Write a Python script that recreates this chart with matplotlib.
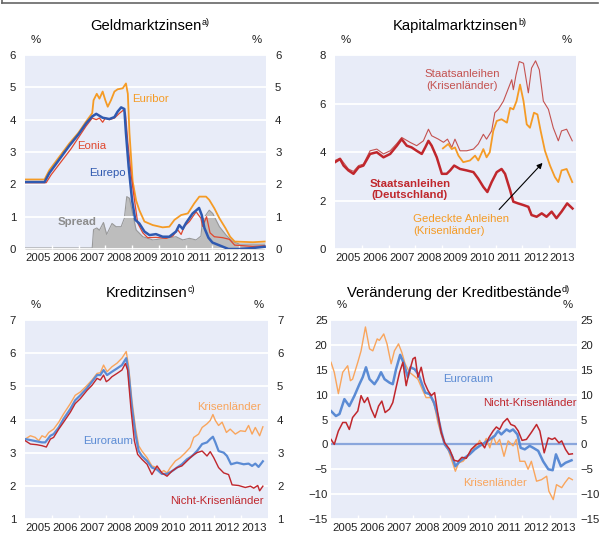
import matplotlib
matplotlib.use("Agg")
import matplotlib.pyplot as plt
from matplotlib.lines import Line2D

plt.rcParams['font.family'] = ['Liberation Sans', 'DejaVu Sans']

# ---------------------------------------------------------------- data
YEARS = ["2005", "2006", "2007", "2008", "2009", "2010", "2011", "2012", "2013"]

# Geldmarktzinsen
euribor_x = [2005.0, 2005.73, 2005.91, 2006.29, 2006.66, 2007.0, 2007.28, 2007.51, 2007.56, 2007.68,
             2007.78, 2007.9, 2008.0, 2008.09, 2008.21, 2008.34, 2008.46, 2008.65, 2008.77, 2008.84,
             2008.9, 2009.02, 2009.15, 2009.27, 2009.46, 2009.77, 2010.14, 2010.39, 2010.58, 2010.83,
             2011.08, 2011.32, 2011.51, 2011.76, 2011.88, 2012.07, 2012.26, 2012.49, 2012.66, 2012.83,
             2013.51, 2013.95]
euribor_y = [2.15, 2.15, 2.44, 2.86, 3.27, 3.6, 3.94, 4.2, 4.6, 4.8,
             4.65, 4.87, 4.6, 4.4, 4.6, 4.87, 4.94, 4.97, 5.12, 4.8,
             3.6, 2.1, 1.5, 1.2, 0.85, 0.74, 0.67, 0.69, 0.9, 1.05,
             1.1, 1.41, 1.62, 1.62, 1.52, 1.26, 0.95, 0.64, 0.38, 0.23,
             0.21, 0.23]
eurepo_x = [2005.0, 2005.73, 2005.91, 2006.29, 2006.66, 2007.0, 2007.28, 2007.51, 2007.66, 2007.9,
            2008.15, 2008.34, 2008.46, 2008.59, 2008.71, 2008.77, 2008.87, 2009.0, 2009.12, 2009.27,
            2009.46, 2009.65, 2009.89, 2010.14, 2010.39, 2010.64, 2010.76, 2010.89, 2011.01, 2011.26,
            2011.5, 2011.6, 2011.7, 2011.85, 2012.0, 2012.3, 2012.6, 2013.0, 2013.5, 2013.95]
eurepo_y = [2.07, 2.07, 2.35, 2.78, 3.2, 3.55, 3.88, 4.1, 4.18, 4.06,
            4.02, 4.08, 4.25, 4.38, 4.33, 3.58, 2.55, 1.5, 0.9, 0.79,
            0.54, 0.43, 0.46, 0.38, 0.38, 0.54, 0.74, 0.62, 0.8, 1.1,
            1.27, 1.05, 0.65, 0.35, 0.2, 0.1, 0.0, 0.0, 0.03, 0.07]
eonia_x = [2005.0, 2005.79, 2005.98, 2006.35, 2006.72, 2007.0, 2007.28, 2007.51, 2007.66, 2007.78,
           2007.9, 2008.0, 2008.15, 2008.34, 2008.53, 2008.68, 2008.75, 2008.84, 2008.96, 2009.09,
           2009.21, 2009.4, 2009.58, 2009.89, 2010.27, 2010.52, 2010.7, 2010.83, 2010.95, 2011.14,
           2011.39, 2011.57, 2011.63, 2011.78, 2011.91, 2012.07, 2012.38, 2012.63, 2012.83, 2013.51,
           2013.95]
eonia_y = [2.05, 2.05, 2.3, 2.7, 3.1, 3.45, 3.8, 4.05, 4.0, 4.05,
           3.92, 4.05, 4.0, 4.05, 4.2, 4.3, 4.2, 3.3, 2.3, 1.5,
           0.8, 0.5, 0.35, 0.36, 0.33, 0.4, 0.6, 0.45, 0.7, 0.85,
           1.15, 0.95, 0.7, 1.0, 0.5, 0.38, 0.35, 0.3, 0.12, 0.08,
           0.1]
spread_x = [2005.0, 2007.51, 2007.56, 2007.68, 2007.78, 2007.93, 2008.05, 2008.25, 2008.4, 2008.59,
            2008.71, 2008.8, 2008.9, 2009.02, 2009.15, 2009.4, 2009.77, 2010.27, 2010.64, 2010.89,
            2011.14, 2011.39, 2011.57, 2011.63, 2011.88, 2012.01, 2012.26, 2012.51, 2012.76, 2013.01,
            2013.95]
spread_y = [0.03, 0.03, 0.6, 0.65, 0.58, 0.82, 0.45, 0.79, 0.69, 0.69,
            0.95, 1.62, 1.57, 1.1, 0.59, 0.38, 0.28, 0.33, 0.38, 0.28,
            0.33, 0.28, 0.4, 0.9, 1.2, 1.1, 0.69, 0.43, 0.23, 0.15,
            0.15]

# Kapitalmarktzinsen
de_x = [2005.0, 2005.19, 2005.32, 2005.5, 2005.69, 2005.88, 2006.06, 2006.31, 2006.56, 2006.81,
        2007.06, 2007.31, 2007.49, 2007.68, 2007.86, 2008.05, 2008.24, 2008.37, 2008.49, 2008.61,
        2008.8, 2008.99, 2009.17, 2009.3, 2009.45, 2009.67, 2009.92, 2010.17, 2010.35, 2010.54,
        2010.69, 2010.85, 2011.04, 2011.22, 2011.35, 2011.54, 2011.66, 2011.84, 2012.04, 2012.22,
        2012.34, 2012.53, 2012.72, 2012.9, 2013.09, 2013.27, 2013.46, 2013.67, 2013.87]
de_y = [3.58, 3.71, 3.44, 3.24, 3.1, 3.37, 3.44, 3.92, 3.99, 3.78,
        3.92, 4.26, 4.53, 4.26, 4.19, 4.05, 3.92, 4.19, 4.46, 4.26,
        3.78, 3.1, 3.1, 3.24, 3.44, 3.3, 3.24, 3.17, 2.9, 2.56,
        2.35, 2.76, 3.17, 3.3, 3.1, 2.42, 1.95, 1.88, 1.81, 1.74,
        1.4, 1.33, 1.47, 1.33, 1.54, 1.27, 1.54, 1.88, 1.67]
krisen_gov_x = [2005.0, 2005.19, 2005.5, 2005.69, 2005.88, 2006.06, 2006.31, 2006.56, 2006.81, 2007.06,
                2007.31, 2007.49, 2007.8, 2008.05, 2008.3, 2008.49, 2008.61, 2008.86, 2009.05, 2009.2,
                2009.36, 2009.48, 2009.67, 2009.92, 2010.17, 2010.35, 2010.54, 2010.66, 2010.85, 2010.97,
                2011.1, 2011.29, 2011.48, 2011.6, 2011.66, 2011.76, 2011.88, 2012.04, 2012.22, 2012.34,
                2012.49, 2012.63, 2012.78, 2012.97, 2013.15, 2013.34, 2013.46, 2013.65, 2013.86]
krisen_gov_y = [3.65, 3.75, 3.3, 3.2, 3.44, 3.5, 4.05, 4.12, 3.92, 4.05,
                4.35, 4.6, 4.4, 4.26, 4.46, 4.94, 4.67, 4.53, 4.4, 4.53,
                4.19, 4.53, 4.05, 4.05, 4.12, 4.33, 4.73, 4.53, 4.87, 5.62,
                5.76, 6.1, 6.64, 6.98, 6.57, 7.18, 7.73, 7.66, 6.44, 7.46,
                7.76, 7.39, 6.1, 5.76, 5.0, 4.46, 4.87, 4.94, 4.46]
covered_x = [2009.03, 2009.23, 2009.36, 2009.48, 2009.61, 2009.79, 2010.04, 2010.23, 2010.35, 2010.54,
             2010.66, 2010.78, 2010.91, 2011.04, 2011.22, 2011.42, 2011.54, 2011.66, 2011.78, 2011.91,
             2012.04, 2012.16, 2012.28, 2012.43, 2012.56, 2012.68, 2012.84, 2013.03, 2013.21, 2013.34,
             2013.46, 2013.65, 2013.86]
covered_y = [4.15, 4.33, 4.12, 4.19, 3.85, 3.58, 3.65, 3.85, 3.65, 4.12,
             3.78, 3.99, 4.87, 5.28, 5.35, 5.21, 5.82, 5.76, 6.1, 6.78,
             6.1, 5.14, 5.0, 5.62, 5.55, 4.87, 4.05, 3.44, 2.97, 2.76,
             3.24, 3.3, 2.76]
ARROW_FROM = (2011.13, 1.63)
ARROW_TO = (2012.75, 3.55)

# Kreditzinsen
kz_krisen_x = [2005.01, 2005.2, 2005.38, 2005.51, 2005.63, 2005.75, 2005.88, 2006.06, 2006.25, 2006.43,
               2006.68, 2006.86, 2007.05, 2007.3, 2007.48, 2007.67, 2007.79, 2007.91, 2008.04, 2008.22,
               2008.41, 2008.59, 2008.75, 2008.84, 2008.96, 2009.09, 2009.21, 2009.33, 2009.52, 2009.7,
               2009.89, 2010.01, 2010.14, 2010.26, 2010.38, 2010.57, 2010.75, 2010.94, 2011.12, 2011.25,
               2011.43, 2011.56, 2011.74, 2011.86, 2011.96, 2012.05, 2012.17, 2012.3, 2012.46, 2012.6,
               2012.79, 2012.98, 2013.16, 2013.28, 2013.41, 2013.53, 2013.69, 2013.81]
kz_krisen_y = [3.41, 3.51, 3.46, 3.36, 3.51, 3.46, 3.61, 3.71, 3.92, 4.17,
               4.48, 4.73, 4.83, 5.03, 5.19, 5.39, 5.41, 5.64, 5.44, 5.59,
               5.7, 5.85, 6.05, 5.59, 4.58, 3.76, 3.21, 3.05, 2.85, 2.6,
               2.55, 2.39, 2.46, 2.39, 2.55, 2.75, 2.85, 3.0, 3.16, 3.46,
               3.56, 3.76, 3.87, 3.97, 4.15, 3.97, 3.82, 3.92, 3.61, 3.71,
               3.56, 3.66, 3.64, 3.82, 3.56, 3.76, 3.51, 3.78]
kz_euro_x = [2005.01, 2005.2, 2005.44, 2005.63, 2005.75, 2005.94, 2006.06, 2006.25, 2006.43, 2006.68,
             2006.86, 2007.05, 2007.3, 2007.48, 2007.67, 2007.79, 2007.91, 2008.04, 2008.22, 2008.41,
             2008.59, 2008.75, 2008.84, 2008.96, 2009.09, 2009.21, 2009.33, 2009.52, 2009.7, 2009.89,
             2010.07, 2010.26, 2010.44, 2010.63, 2010.81, 2011.0, 2011.19, 2011.37, 2011.56, 2011.74,
             2011.86, 2011.96, 2012.05, 2012.17, 2012.36, 2012.48, 2012.63, 2012.85, 2013.1, 2013.28,
             2013.41, 2013.53, 2013.65, 2013.81]
kz_euro_y = [3.41, 3.38, 3.34, 3.31, 3.31, 3.51, 3.56, 3.76, 4.02, 4.32,
             4.58, 4.73, 4.95, 5.14, 5.34, 5.34, 5.49, 5.34, 5.44, 5.54,
             5.64, 5.85, 5.39, 4.37, 3.56, 3.05, 2.9, 2.75, 2.55, 2.49,
             2.36, 2.36, 2.44, 2.55, 2.65, 2.8, 2.9, 3.05, 3.26, 3.31,
             3.41, 3.48, 3.31, 3.05, 3.0, 2.9, 2.65, 2.7, 2.65, 2.67,
             2.6, 2.67, 2.57, 2.74]
kz_nicht_x = [2005.01, 2005.2, 2005.44, 2005.63, 2005.79, 2005.94, 2006.06, 2006.25, 2006.43, 2006.68,
              2006.86, 2007.05, 2007.3, 2007.48, 2007.67, 2007.79, 2007.91, 2008.01, 2008.1, 2008.22,
              2008.41, 2008.59, 2008.72, 2008.8, 2008.93, 2009.05, 2009.17, 2009.33, 2009.52, 2009.7,
              2009.89, 2010.07, 2010.26, 2010.44, 2010.63, 2010.81, 2011.0, 2011.19, 2011.37, 2011.56,
              2011.74, 2011.86, 2011.99, 2012.17, 2012.36, 2012.54, 2012.67, 2012.91, 2013.16, 2013.35,
              2013.47, 2013.62, 2013.69, 2013.81]
kz_nicht_y = [3.36, 3.26, 3.24, 3.21, 3.17, 3.41, 3.46, 3.71, 3.92, 4.22,
              4.48, 4.63, 4.88, 5.03, 5.24, 5.19, 5.34, 5.14, 5.19, 5.29,
              5.39, 5.49, 5.69, 5.49, 4.27, 3.36, 2.95, 2.8, 2.65, 2.34,
              2.6, 2.39, 2.29, 2.44, 2.55, 2.6, 2.75, 2.9, 3.0, 3.05,
              2.9, 3.03, 2.85, 2.55, 2.39, 2.34, 2.03, 2.01, 1.95, 1.99,
              1.93, 2.01, 1.85, 1.99]

# Veraenderung der Kreditbestaende
kb_krisen_x = [2005.0, 2005.12, 2005.27, 2005.43, 2005.61, 2005.71, 2005.79, 2005.98, 2006.1, 2006.26,
               2006.41, 2006.53, 2006.69, 2006.77, 2006.93, 2007.05, 2007.2, 2007.32, 2007.47, 2007.59,
               2007.71, 2007.87, 2008.03, 2008.18, 2008.36, 2008.48, 2008.67, 2008.79, 2008.91, 2009.03,
               2009.16, 2009.3, 2009.43, 2009.55, 2009.67, 2009.83, 2009.99, 2010.16, 2010.32, 2010.44,
               2010.56, 2010.68, 2010.81, 2010.93, 2011.05, 2011.17, 2011.33, 2011.48, 2011.66, 2011.78,
               2011.91, 2012.09, 2012.21, 2012.33, 2012.52, 2012.7, 2012.89, 2012.97, 2013.13, 2013.25,
               2013.44, 2013.56, 2013.7, 2013.83]
kb_krisen_y = [16.5, 14.5, 10.2, 14.5, 15.8, 12.8, 13.1, 16.5, 18.8, 23.6,
               19.2, 18.8, 21.2, 20.9, 22.2, 20.2, 16.2, 18.8, 20.2, 18.5,
               16.2, 14.5, 13.8, 13.1, 10.8, 9.4, 9.4, 7.7, 4.4, 2.0,
               0.0, -1.3, -3.4, -5.4, -3.7, -3.4, -2.4, -1.0, -0.3, 0.8,
               -0.3, 1.2, -0.7, 1.7, 0.0, 1.0, -2.4, 0.7, -0.3, 1.0,
               -3.4, -3.4, -5.0, -3.4, -7.4, -7.1, -6.4, -9.4, -11.1, -8.1,
               -8.7, -7.7, -6.7, -7.1]
kb_euro_x = [2005.0, 2005.18, 2005.31, 2005.49, 2005.67, 2005.86, 2006.04, 2006.16, 2006.28, 2006.41,
             2006.59, 2006.71, 2006.83, 2006.96, 2007.14, 2007.26, 2007.38, 2007.53, 2007.67, 2007.81,
             2007.91, 2008.06, 2008.2, 2008.33, 2008.45, 2008.61, 2008.77, 2008.91, 2009.03, 2009.16,
             2009.3, 2009.43, 2009.55, 2009.71, 2009.89, 2010.07, 2010.26, 2010.44, 2010.62, 2010.81,
             2010.99, 2011.11, 2011.23, 2011.42, 2011.54, 2011.66, 2011.82, 2011.94, 2012.09, 2012.27,
             2012.4, 2012.58, 2012.76, 2012.95, 2013.11, 2013.23, 2013.41, 2013.58, 2013.8]
kb_euro_y = [6.7, 5.7, 6.1, 9.1, 7.7, 9.8, 12.1, 13.5, 15.5, 13.1,
             12.1, 13.1, 14.5, 13.1, 12.4, 12.1, 15.1, 18.0, 16.2, 13.5,
             15.5, 15.1, 14.1, 12.1, 10.4, 10.1, 8.4, 5.7, 2.7, 0.0,
             -1.0, -2.4, -4.4, -3.4, -2.7, -2.0, -1.0, -0.3, 0.3, 1.0,
             1.7, 2.7, 2.0, 3.0, 2.6, 3.0, 2.0, -0.7, -1.0, -0.3,
             -0.7, -1.3, -3.4, -5.0, -5.2, -2.0, -4.4, -3.7, -3.2]
kb_nicht_x = [2005.0, 2005.12, 2005.27, 2005.43, 2005.55, 2005.67, 2005.79, 2005.98, 2006.1, 2006.22,
              2006.34, 2006.47, 2006.61, 2006.74, 2006.86, 2006.98, 2007.14, 2007.26, 2007.38, 2007.51,
              2007.63, 2007.75, 2007.84, 2008.0, 2008.08, 2008.18, 2008.3, 2008.42, 2008.55, 2008.67,
              2008.79, 2008.91, 2009.03, 2009.16, 2009.34, 2009.5, 2009.65, 2009.79, 2009.95, 2010.13,
              2010.32, 2010.5, 2010.62, 2010.77, 2010.93, 2011.05, 2011.17, 2011.3, 2011.45, 2011.58,
              2011.72, 2011.85, 2011.99, 2012.15, 2012.33, 2012.52, 2012.64, 2012.8, 2012.95, 2013.09,
              2013.19, 2013.34, 2013.44, 2013.58, 2013.7, 2013.83]
kb_nicht_y = [1.0, 0.0, 2.7, 4.4, 4.4, 3.0, 5.4, 6.7, 9.8, 8.4,
              9.4, 7.1, 5.4, 7.7, 8.7, 6.4, 7.1, 8.4, 11.4, 14.5,
              16.5, 11.8, 14.1, 17.2, 17.5, 13.5, 15.5, 12.4, 10.8, 9.8,
              10.4, 6.1, 2.4, 0.3, -1.0, -3.2, -3.4, -2.6, -2.8, -1.0,
              0.0, 0.3, -0.7, 1.3, 2.7, 3.5, 3.0, 4.4, 5.2, 4.0,
              3.7, 2.7, 0.8, 1.0, 2.4, 4.0, 2.7, -1.7, 1.3, 1.0,
              1.3, 0.3, 0.7, -1.0, -2.0, -1.9]

# ---------------------------------------------------------------- style
BG = '#e8ecf8'
ORANGE = '#f59b25'
LORANGE = '#f9a55c'
BLUE = '#2f59b0'
LBLUE = '#5b8bd4'
RED = '#e0472e'
DRED = '#c0272d'
MRED = '#c45250'
GREY = '#8c8c8c'
INK = '#222222'
FS = 8.2

fig = plt.figure(figsize=(6.02, 5.33), dpi=100)
W, H = 602.0, 533.0


def axes_px(left, top, right, bottom):
  return fig.add_axes([left / W, 1 - bottom / H, (right - left) / W, (bottom - top) / H])


def setup(ax, ylim, yticks, title, sup, right=True, pad=6.5, tdy=21):
  ax.set_facecolor(BG)
  for s in ax.spines.values():
    s.set_visible(False)
  ax.set_xlim(2005, 2014)
  ax.set_ylim(*ylim)
  ax.set_yticks(yticks)
  ax.yaxis.grid(True, color='white', lw=1.3)
  ax.set_axisbelow('line')
  # year boundaries get small white ticks, the labels sit in the middle of each year
  ax.set_xticks(range(2006, 2014))
  ax.set_xticklabels([])
  ax.set_xticks([y + 0.5 for y in range(2005, 2014)], minor=True)
  ax.set_xticklabels(YEARS, minor=True)
  ax.tick_params(axis='x', which='major', direction='in', length=3, width=1, color='white')
  ax.tick_params(axis='x', which='minor', length=0, pad=3, labelsize=FS, colors=INK)
  ax.tick_params(axis='y', which='both', length=0, labelsize=FS, colors=INK,
                 labelleft=True, labelright=right, pad=pad)
  ax.annotate('%', xy=(0, 1), xycoords='axes fraction', xytext=(4, 7),
              textcoords='offset points', fontsize=FS, ha='left', va='bottom', color=INK)
  ax.annotate('%', xy=(1, 1), xycoords='axes fraction', xytext=(-3, 7),
              textcoords='offset points', fontsize=FS, ha='right', va='bottom', color=INK)
  t = ax.annotate(title, xy=(0.5, 1), xycoords='axes fraction', xytext=(0, tdy),
                  textcoords='offset points', fontsize=10.6, ha='center', va='center')
  ax.annotate(sup, xy=(1, 0.42), xycoords=t, fontsize=6.5, ha='left', va='bottom')


# ---- Geldmarktzinsen
ax1 = axes_px(25, 55, 266, 249)
setup(ax1, (0, 6), range(0, 7), 'Geldmarktzinsen', 'a)')
ax1.fill_between(spread_x, 0, spread_y, color='#bdbdbd', lw=0, zorder=1)
ax1.plot(spread_x, spread_y, color='#999999', lw=0.8, zorder=1.2)
ax1.plot(euribor_x, euribor_y, color=ORANGE, lw=1.3, zorder=3)
ax1.plot(eonia_x, eonia_y, color=RED, lw=0.9, zorder=3.5)
ax1.plot(eurepo_x, eurepo_y, color=BLUE, lw=1.8, zorder=4)
ax1.text(2009.01, 4.63, 'Euribor', color=ORANGE, fontsize=FS, va='center')
ax1.text(2006.93, 3.19, 'Eonia', color=RED, fontsize=FS, va='center')
ax1.text(2007.38, 2.36, 'Eurepo', color=BLUE, fontsize=FS, va='center')
ax1.text(2006.22, 0.85, 'Spread', color=GREY, fontsize=FS, va='center', fontweight='bold')

# ---- Kapitalmarktzinsen
ax2 = axes_px(335, 55, 576, 249)
setup(ax2, (0, 8), range(0, 9, 2), 'Kapitalmarktzinsen', 'b)', right=False)
ax2.plot(krisen_gov_x, krisen_gov_y, color=MRED, lw=0.8, zorder=3)
ax2.plot(covered_x, covered_y, color=ORANGE, lw=1.3, zorder=3.5)
ax2.plot(de_x, de_y, color=DRED, lw=1.8, zorder=4)
ax2.annotate('', xy=ARROW_TO, xytext=ARROW_FROM,
             arrowprops=dict(arrowstyle='-|>', color='black', lw=0.8, mutation_scale=8,
                             shrinkA=0, shrinkB=0), zorder=5)
ax2.text(2009.74, 6.97, 'Staatsanleihen\n(Krisenländer)', color=MRED, fontsize=FS,
         ha='center', va='center', linespacing=1.15)
ax2.text(2007.8, 2.46, 'Staatsanleihen\n(Deutschland)', color=DRED, fontsize=FS,
         ha='center', va='center', fontweight='bold', linespacing=1.15)
ax2.text(2007.91, 0.99, 'Gedeckte Anleihen\n(Krisenländer)', color=ORANGE, fontsize=FS,
         ha='left', va='center', linespacing=1.15)

# ---- Kreditzinsen
ax3 = axes_px(25, 320, 268, 519)
setup(ax3, (1, 7), range(1, 8), 'Kreditzinsen', 'c)', tdy=19.5)
ax3.plot(kz_krisen_x, kz_krisen_y, color=LORANGE, lw=1.0, zorder=3)
ax3.plot(kz_euro_x, kz_euro_y, color=LBLUE, lw=1.6, zorder=3.5)
ax3.plot(kz_nicht_x, kz_nicht_y, color=DRED, lw=1.0, zorder=4)
ax3.text(2011.36, 4.39, 'Krisenländer', color=LORANGE, fontsize=FS, va='center')
ax3.text(2007.16, 3.36, 'Euroraum', color=LBLUE, fontsize=FS, va='center')
ax3.text(2010.37, 1.53, 'Nicht-Krisenländer', color=DRED, fontsize=FS, va='center')

# ---- Veraenderung der Kreditbestaende
ax4 = axes_px(331, 320, 577, 519)
setup(ax4, (-15, 25), range(-15, 26, 5), 'Veränderung der Kreditbestände', 'd)', tdy=19.5)
ax4.tick_params(axis='y', which='major', pad=2.5)
ax4.axhline(0, color='#8aa6dc', lw=1.6, zorder=1.8)
ax4.plot(kb_krisen_x, kb_krisen_y, color=LORANGE, lw=1.0, zorder=3)
ax4.plot(kb_euro_x, kb_euro_y, color=LBLUE, lw=1.8, zorder=3.5)
ax4.plot(kb_nicht_x, kb_nicht_y, color=DRED, lw=1.1, zorder=4)
ax4.text(2009.1, 13.1, 'Euroraum', color=LBLUE, fontsize=FS, va='center')
ax4.text(2010.58, 8.4, 'Nicht-Krisenländer', color=DRED, fontsize=FS, va='center')
ax4.text(2009.84, -7.7, 'Krisenländer', color=LORANGE, fontsize=FS, va='center')

# frame line at the very top
fig.add_artist(Line2D([2 / W, 598 / W], [1 - 3 / H, 1 - 3 / H], color='#666666', lw=1.2))
fig.add_artist(Line2D([2 / W, 2 / W], [1 - 3 / H, 1.0], color='#666666', lw=1.2))

fig.savefig('out.png', dpi=100)
